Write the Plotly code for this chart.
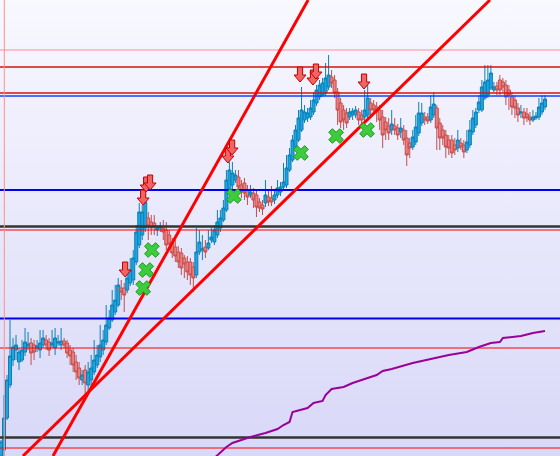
import base64
import plotly.graph_objects as go

# ---------------- data ----------------
opens = [0, 6, 38, 71, 96, 106, 94, 96, 104, 110,
         113, 111, 108, 106, 111, 116, 114, 111, 108, 113,
         111, 115, 113, 106, 104, 94, 88, 76, 86, 71,
         76, 84, 91, 99, 106, 114, 128, 136, 144, 151,
         168, 168, 166, 173, 176, 194, 211, 221, 228, 238,
         234, 233, 226, 228, 228, 226, 221, 213, 209, 204,
         203, 198, 194, 194, 189, 181, 204, 206, 209, 208,
         216, 214, 221, 228, 236, 246, 264, 271, 276, 279,
         271, 273, 266, 261, 263, 261, 254, 251, 253, 259,
         258, 256, 261, 264, 269, 271, 286, 296, 309, 316,
         326, 336, 338, 339, 344, 353, 359, 361, 363, 369,
         379, 376, 364, 353, 346, 343, 339, 341, 341, 344,
         341, 339, 341, 353, 351, 349, 346, 339, 334, 330,
         326, 330, 328, 324, 326, 318, 313, 309, 314, 323,
         333, 339, 339, 336, 341, 348, 333, 326, 321, 316,
         316, 311, 308, 313, 311, 306, 311, 324, 331, 346,
         346, 358, 361, 368, 366, 370, 376, 374, 371, 366,
         359, 356, 348, 343, 344, 342, 339, 336, 338, 339,
         344, 349]
highs = [16, 61, 81, 136, 118, 121, 108, 116, 128, 124,
         118, 116, 116, 126, 126, 121, 118, 126, 128, 121,
         128, 118, 116, 111, 108, 101, 94, 86, 91, 94,
         101, 116, 111, 131, 126, 151, 146, 166, 171, 178,
         176, 173, 186, 198, 206, 231, 253, 251, 261, 244,
         241, 241, 231, 234, 236, 234, 226, 218, 216, 210,
         208, 201, 200, 198, 194, 228, 226, 221, 216, 226,
         228, 231, 246, 246, 256, 286, 294, 294, 286, 286,
         276, 278, 271, 271, 268, 266, 258, 256, 276, 266,
         270, 266, 276, 274, 293, 301, 308, 321, 331, 346,
         369, 351, 348, 356, 364, 371, 376, 378, 393, 401,
         386, 381, 368, 358, 351, 348, 348, 348, 350, 348,
         346, 366, 373, 358, 356, 354, 351, 346, 339, 338,
         346, 338, 332, 338, 331, 326, 318, 326, 341, 354,
         353, 344, 343, 361, 364, 351, 338, 331, 326, 321,
         321, 318, 326, 318, 316, 326, 336, 346, 348, 361,
         376, 391, 391, 391, 374, 374, 381, 378, 376, 371,
         364, 361, 353, 351, 348, 348, 344, 346, 344, 358,
         361, 361]
lows = [-2, 0, 36, 68, 90, 96, 86, 94, 100, 106,
        91, 96, 104, 98, 108, 106, 100, 108, 101, 110,
        106, 108, 98, 91, 84, 76, 71, 71, 61, 64,
        68, 81, 88, 94, 101, 111, 126, 134, 141, 149,
        156, 144, 163, 170, 171, 191, 208, 216, 224, 216,
        221, 221, 220, 224, 216, 206, 206, 198, 194, 188,
        181, 178, 176, 171, 164, 178, 201, 196, 198, 206,
        213, 211, 218, 224, 234, 244, 261, 266, 273, 264,
        258, 256, 251, 258, 248, 239, 244, 241, 249, 250,
        250, 252, 258, 260, 266, 268, 284, 294, 306, 314,
        324, 333, 334, 336, 341, 350, 356, 359, 360, 366,
        368, 358, 331, 328, 326, 328, 336, 336, 338, 331,
        330, 334, 338, 338, 341, 334, 326, 308, 316, 316,
        321, 321, 316, 318, 311, 290, 298, 306, 311, 320,
        330, 331, 332, 333, 338, 306, 306, 311, 298, 301,
        298, 301, 304, 306, 298, 303, 308, 321, 328, 343,
        344, 356, 358, 366, 364, 361, 361, 364, 351, 346,
        341, 338, 334, 338, 331, 334, 331, 334, 336, 336,
        341, 346]
closes = [14, 38, 76, 100, 109, 111, 104, 106, 114, 112,
          103, 104, 110, 113, 118, 111, 106, 113, 118, 114,
          115, 111, 103, 100, 91, 84, 78, 81, 73, 84,
          88, 96, 101, 111, 116, 131, 138, 151, 156, 171,
          164, 161, 178, 186, 198, 224, 244, 244, 254, 230,
          228, 229, 228, 230, 224, 211, 212, 203, 200, 194,
          188, 192, 184, 181, 178, 204, 214, 207, 204, 213,
          219, 226, 234, 238, 248, 276, 286, 283, 281, 269,
          264, 263, 259, 264, 256, 249, 248, 247, 261, 254,
          254, 261, 268, 269, 274, 288, 301, 316, 326, 338,
          346, 344, 343, 348, 356, 366, 371, 373, 378, 381,
          373, 363, 346, 334, 336, 333, 344, 345, 346, 336,
          336, 346, 358, 346, 346, 344, 336, 321, 326, 323,
          332, 326, 321, 328, 316, 301, 308, 319, 329, 343,
          343, 336, 335, 349, 352, 328, 318, 318, 309, 308,
          303, 306, 316, 309, 304, 314, 326, 338, 344, 354,
          369, 374, 376, 383, 369, 366, 366, 369, 359, 361,
          349, 348, 341, 344, 338, 338, 336, 339, 340, 349,
          353, 357]
bars = list(range(len(closes)))

# horizontal price levels
levels = [406, 389, 363, 360, 266, 229.5, 226, 137.5, 108, 18.5, 8]
level_colors = ['#ff8f8f', '#d81010', '#d81010', '#1040ff', '#0000ee', '#333333',
                '#ff0000', '#0000ee', '#ff0000', '#333333', '#ff0000']
level_widths = [1, 1.5, 1.5, 1.5, 2, 2.5, 1, 2, 1, 2.5, 1]

# vertical time marker
vline_bar = 1.1

# trend lines (two anchor points each)
trend_x = [[17.3, 102.2], [7.3, 162.7]]
trend_y = [[0, 456], [0, 456]]

# indicator (purple)
ind_x = [71, 72, 73, 75, 77, 83, 88, 92, 94, 96, 97, 102, 104, 107, 108, 110, 114,
         117, 122, 125, 127, 130, 137, 144, 149, 155, 159, 163, 166, 167, 173, 177, 181]
ind_y = [-2, 1, 4, 9, 13, 19, 23, 27, 31, 34, 44, 48, 53, 55, 61, 67, 69,
         73, 78, 81, 85, 87, 93, 98, 101, 104, 109, 113, 114, 118, 120, 123, 125]

# sell arrows (tip positions)
arrow_x = [41.3, 47.3, 48.3, 49.6, 75.5, 76.9, 99.5, 103.8, 104.8, 120.8]
arrow_y = [179, 251, 264, 266, 293, 301, 374, 371, 377, 367]

# green x markers
xmark_x = [47.3, 48.3, 50.2, 77.5, 99.8, 111.5, 121.8]
xmark_y = [168, 186, 206, 260, 303, 320, 326]

# ---------------- figure ----------------
W, H = 560, 456
x_range = [-0.333, 186.0]
y_range = [0, 456]

fig = go.Figure()

fig.add_trace(go.Candlestick(
    x=bars, open=opens, high=highs, low=lows, close=closes,
    increasing=dict(fillcolor='#1ea4e0', line=dict(color='#0a80b6', width=1)),
    decreasing=dict(fillcolor='#ec8080', line=dict(color='#c44c4c', width=1)),
    whiskerwidth=0, showlegend=False, hoverinfo='skip'))

for lv, c, w in zip(levels, level_colors, level_widths):
    fig.add_trace(go.Scatter(x=[x_range[0] - 5, x_range[1] + 5], y=[lv, lv], mode='lines',
                             line=dict(color=c, width=w), showlegend=False, hoverinfo='skip'))

fig.add_trace(go.Scatter(x=[vline_bar, vline_bar], y=[y_range[0] - 10, y_range[1] + 10],
                         mode='lines', line=dict(color='#ff8f8f', width=1),
                         showlegend=False, hoverinfo='skip'))

for tx, ty in zip(trend_x, trend_y):
    fig.add_trace(go.Scatter(x=tx, y=ty, mode='lines', line=dict(color='#ff0000', width=3),
                             showlegend=False, hoverinfo='skip'))

fig.add_trace(go.Scatter(x=ind_x, y=ind_y, mode='lines',
                         line=dict(color='#990099', width=2),
                         showlegend=False, hoverinfo='skip'))

fig.add_trace(go.Scatter(x=xmark_x, y=xmark_y, mode='markers',
                         marker=dict(symbol='x', size=13, color='#3dcc3d',
                                     line=dict(color='#1a9a1a', width=1)),
                         showlegend=False, hoverinfo='skip'))

# block arrows as path shapes built from the tip positions
ux = (x_range[1] - x_range[0]) / W   # data units per pixel (x)
uy = (y_range[1] - y_range[0]) / H   # data units per pixel (y)
shapes = []
for ax, ay in zip(arrow_x, arrow_y):
    hw, sw, hh, th = 6.0 * ux, 2.6 * ux, 7.0 * uy, 15.0 * uy
    path = (f"M{ax},{ay} L{ax - hw},{ay + hh} L{ax - sw},{ay + hh} L{ax - sw},{ay + th} "
            f"L{ax + sw},{ay + th} L{ax + sw},{ay + hh} L{ax + hw},{ay + hh} Z")
    shapes.append(dict(type='path', path=path, xref='x', yref='y',
                       fillcolor='#f06464', line=dict(color='#c00000', width=1), layer='above'))

svg = ('<svg xmlns="http://www.w3.org/2000/svg" width="560" height="456" preserveAspectRatio="none">'
       '<defs><linearGradient id="g" x1="0" y1="0" x2="0" y2="1">'
       '<stop offset="0" stop-color="#f8f8ff"/><stop offset="1" stop-color="#d8d8f8"/>'
       '</linearGradient></defs><rect width="560" height="456" fill="url(#g)"/></svg>')
bg_src = 'data:image/svg+xml;base64,' + base64.b64encode(svg.encode()).decode()

fig.update_layout(
    width=W, height=H,
    margin=dict(l=0, r=0, t=0, b=0, pad=0),
    paper_bgcolor='#e8e8fb', plot_bgcolor='rgba(0,0,0,0)',
    boxgap=0.0, boxgroupgap=0,
    shapes=shapes,
    images=[dict(source=bg_src, xref='paper', yref='paper', x=0, y=1, sizex=1, sizey=1,
                 sizing='stretch', layer='below', xanchor='left', yanchor='top')],
    xaxis=dict(range=x_range, visible=False, rangeslider=dict(visible=False), fixedrange=True),
    yaxis=dict(range=y_range, visible=False, fixedrange=True),
)

fig.write_html("out.html", config={'displayModeBar': False},
               post_script="document.body.style.margin='0';")
